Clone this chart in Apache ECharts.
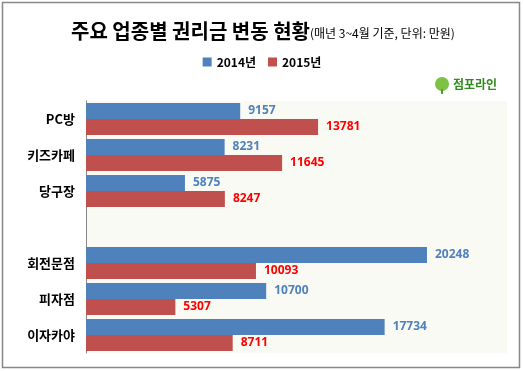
<!DOCTYPE html>
<html><head><meta charset="utf-8">
<script src="https://cdn.jsdelivr.net/npm/echarts@6/dist/echarts.min.js"></script>
<style>html,body{margin:0;padding:0;background:#fff}#c{width:524px;height:371px}</style>
</head><body><div id="c"></div>
<script>
const categories = ['PC방', '키즈카페', '당구장', '', '회전문점', '피자점', '이자카야'];
const values2014 = [9157, 8231, 5875, null, 20248, 10700, 17734];
const values2015 = [13781, 11645, 8247, null, 10093, 5307, 8711];
const seriesNames = ['2014년', '2015년'];

const KR = '"Noto Sans CJK KR", sans-serif';
const chart = echarts.init(document.getElementById('c'), null, {renderer: 'canvas'});
chart.setOption({
  backgroundColor: '#fff',
  animation: false,
  title: {
    text: '주요 업종별 권리금 변동 현황{s|(매년 3~4월 기준, 단위: 만원)}',
    left: 66, top: 16,
    textStyle: {fontFamily: KR, fontSize: 20, fontWeight: 'bold', color: '#000',
      rich: {s: {fontFamily: KR, fontSize: 12, fontWeight: 'normal', color: '#000', padding: [4, 0, 0, 0]}}}
  },
  legend: {
    data: seriesNames, top: 51, left: 'center', itemWidth: 9, itemHeight: 9, itemGap: 12,
    icon: 'rect',
    textStyle: {fontFamily: KR, fontSize: 12, fontWeight: 'bold', color: '#000'}
  },
  grid: {left: 86, right: 17, top: 101, bottom: 18, show: true, backgroundColor: '#F9FAF4', borderWidth: 0},
  xAxis: {type: 'value', min: 0, max: 25000, show: false},
  yAxis: {
    type: 'category', data: categories, inverse: true,
    axisLine: {lineStyle: {color: '#888', width: 1}},
    axisTick: {show: false},
    axisLabel: {fontFamily: KR, fontSize: 13, fontWeight: 'bold', color: '#000', margin: 11}
  },
  series: [
    {name: seriesNames[0], type: 'bar', data: values2014, barWidth: 16, barGap: '0%',
     itemStyle: {color: '#4F81BD'},
     label: {show: true, position: 'right', distance: 8, fontFamily: 'Open Sans, sans-serif', fontSize: 12, fontWeight: 'bold', color: '#4F81BD'}},
    {name: seriesNames[1], type: 'bar', data: values2015, barWidth: 16,
     itemStyle: {color: '#C0504D'},
     label: {show: true, position: 'right', distance: 8, fontFamily: 'Open Sans, sans-serif', fontSize: 12, fontWeight: 'bold', color: '#FF0000'}}
  ],
  graphic: [
    {type: 'rect', shape: {x: 2.5, y: 2.5, width: 517, height: 365}, style: {fill: null, stroke: '#888', lineWidth: 1.5}, silent: true},
    {type: 'circle', shape: {cx: 442, cy: 84, r: 7}, style: {fill: '#7DC242'}},
    {type: 'rect', shape: {x: 441, y: 89, width: 2, height: 5}, style: {fill: '#5A9A2A'}},
    {type: 'text', left: 453, top: 78, style: {text: '점포라인', fill: '#2E8B1E', font: 'bold 12px "Noto Sans CJK KR"'}}
  ]
});
</script></body></html>
